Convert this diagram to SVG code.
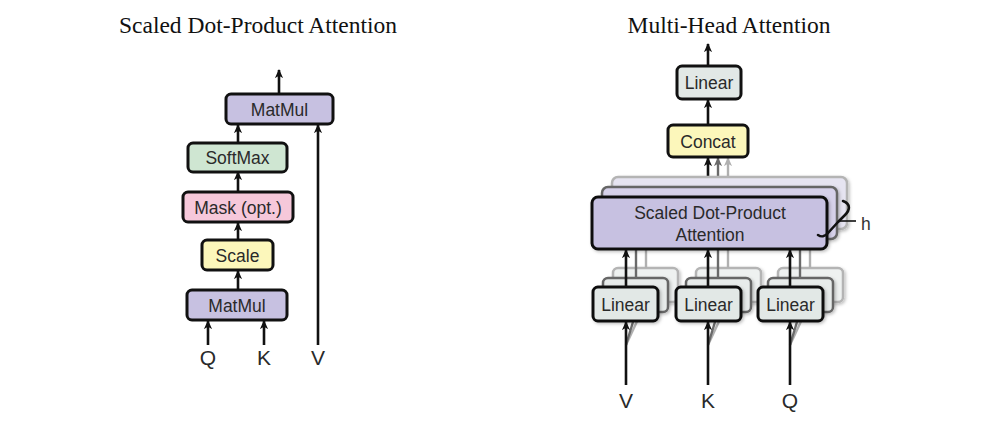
<svg xmlns="http://www.w3.org/2000/svg" width="1000" height="425" viewBox="0 0 1000 425">
<defs>
<style>
.title{font-family:"Liberation Serif","Times New Roman",serif;font-size:23.5px;fill:#111;text-anchor:middle}
.lbl{font-family:"Liberation Sans",Arial,sans-serif;font-size:17.5px;fill:#2a2a2a;text-anchor:middle}
.io{font-family:"Liberation Sans",Arial,sans-serif;font-size:21px;fill:#2a2a2a;text-anchor:middle}
.box{stroke:#111;stroke-width:3}
.b2{stroke:#666;stroke-width:2.5}
.b3{stroke:#b4b4b4;stroke-width:2.5}
.wire{stroke:#111;stroke-width:2.6;fill:none}
.w2{stroke:#6a6a6a;stroke-width:2.4;fill:none}
.w3{stroke:#b0b0b0;stroke-width:2.4;fill:none}
.purple{fill:#c7c1e1}.green{fill:#cfe6d2}.pink{fill:#f6c8da}.yellow{fill:#fcf7bb}.grey{fill:#e2e8e6}
</style>
<marker id="ah" viewBox="0 0 10 10" refX="9" refY="5" markerWidth="9" markerHeight="10" markerUnits="userSpaceOnUse" orient="auto"><path d="M0,0.5 L10,5 L0,9.5 L2.5,5 z" fill="#111"/></marker>
<marker id="ah2" viewBox="0 0 10 10" refX="9" refY="5" markerWidth="9" markerHeight="10" markerUnits="userSpaceOnUse" orient="auto"><path d="M0,0.5 L10,5 L0,9.5 L2.5,5 z" fill="#6a6a6a"/></marker>
<marker id="ah3" viewBox="0 0 10 10" refX="9" refY="5" markerWidth="9" markerHeight="10" markerUnits="userSpaceOnUse" orient="auto"><path d="M0,0.5 L10,5 L0,9.5 L2.5,5 z" fill="#b0b0b0"/></marker>
<filter id="sh" x="-20%" y="-30%" width="140%" height="160%"><feDropShadow dx="1.5" dy="1.5" stdDeviation="1.8" flood-color="#000" flood-opacity="0.25"/></filter>
</defs>
<rect width="1000" height="425" fill="#fff"/>

<text class="title" x="258" y="33">Scaled Dot-Product Attention</text>
<text class="title" x="729" y="33">Multi-Head Attention</text>

<!-- Left diagram connectors -->
<g id="connectors-left">
<line class="wire" x1="279" y1="94" x2="279" y2="70" marker-end="url(#ah)"/>
<line class="wire" x1="238" y1="143" x2="238" y2="125" marker-end="url(#ah)"/>
<line class="wire" x1="318" y1="345" x2="318" y2="125" marker-end="url(#ah)"/>
<line class="wire" x1="238" y1="192" x2="238" y2="172" marker-end="url(#ah)"/>
<line class="wire" x1="238" y1="240" x2="238" y2="223" marker-end="url(#ah)"/>
<line class="wire" x1="238" y1="290" x2="238" y2="271" marker-end="url(#ah)"/>
<line class="wire" x1="208" y1="345" x2="208" y2="321" marker-end="url(#ah)"/>
<line class="wire" x1="264" y1="345" x2="264" y2="321" marker-end="url(#ah)"/>
</g>

<g id="matmul-top"><rect class="box purple" x="226" y="94" width="107" height="30" rx="5"/><text class="lbl" x="279.5" y="115.5">MatMul</text></g>
<g id="softmax"><rect class="box green" x="188" y="143" width="99" height="29" rx="5"/><text class="lbl" x="237.5" y="164">SoftMax</text></g>
<g id="mask"><rect class="box pink" x="183" y="192" width="110" height="30" rx="5"/><text class="lbl" x="238" y="213.5">Mask (opt.)</text></g>
<g id="scale"><rect class="box yellow" x="202" y="240" width="71" height="30" rx="5"/><text class="lbl" x="237.5" y="261.5">Scale</text></g>
<g id="matmul-bottom"><rect class="box purple" x="187" y="290" width="100" height="30" rx="5"/><text class="lbl" x="237" y="311.5">MatMul</text></g>
<g id="labels-left">
<text class="io" x="208" y="365">Q</text>
<text class="io" x="264" y="365">K</text>
<text class="io" x="318" y="365">V</text>
</g>

<!-- Right diagram -->
<g id="connectors-right">
<line class="wire" x1="708" y1="66" x2="708" y2="44" marker-end="url(#ah)"/>
<line class="wire" x1="708" y1="125" x2="708" y2="100" marker-end="url(#ah)"/>
<line class="w3" x1="728" y1="177" x2="728" y2="158" marker-end="url(#ah3)"/>
<line class="w2" x1="718" y1="187" x2="718" y2="158" marker-end="url(#ah2)"/>
<line class="wire" x1="708" y1="197" x2="708" y2="158" marker-end="url(#ah)"/>
</g>

<g id="linear-top"><rect class="box grey" x="677" y="66" width="64" height="33" rx="5"/><text class="lbl" x="709" y="88.5">Linear</text></g>
<g id="concat"><rect class="box yellow" x="668" y="125" width="80" height="32" rx="5"/><text class="lbl" x="708" y="147.5">Concat</text></g>

<!-- back layers of SDPA -->
<g id="sdpa-back">
<rect class="b3" x="612" y="177" width="235" height="52" rx="6" fill="#e6e4f1" filter="url(#sh)"/>
<rect class="b2" x="602" y="187" width="235" height="52" rx="6" fill="#d6d1ea" filter="url(#sh)"/>
</g>

<!-- Linear stacks and their wires -->
<g id="linear-v">
<path class="w3" d="M626 345 L646 302"/>
<path class="w2" d="M626 345 L636 312"/>
<rect class="b3" x="613" y="268" width="65" height="34" rx="5" fill="#eef1f0" filter="url(#sh)"/>
<line class="w3" x1="646" y1="268" x2="646" y2="229"/>
<rect class="b2" x="603" y="278" width="65" height="34" rx="5" fill="#e7ebea" filter="url(#sh)"/>
<line class="w2" x1="636" y1="278" x2="636" y2="239"/>
<rect class="box grey" x="593" y="287" width="65" height="34" rx="5" filter="url(#sh)"/>
<text class="lbl" x="625.5" y="310.5">Linear</text>
</g>
<g id="linear-k">
<path class="w3" d="M708 345 L728 302"/>
<path class="w2" d="M708 345 L718 312"/>
<rect class="b3" x="696" y="268" width="65" height="34" rx="5" fill="#eef1f0" filter="url(#sh)"/>
<line class="w3" x1="728" y1="268" x2="728" y2="229"/>
<rect class="b2" x="686" y="278" width="65" height="34" rx="5" fill="#e7ebea" filter="url(#sh)"/>
<line class="w2" x1="718" y1="278" x2="718" y2="239"/>
<rect class="box grey" x="676" y="287" width="65" height="34" rx="5" filter="url(#sh)"/>
<text class="lbl" x="708.5" y="310.5">Linear</text>
</g>
<g id="linear-q">
<path class="w3" d="M790 345 L810 302"/>
<path class="w2" d="M790 345 L800 312"/>
<rect class="b3" x="778" y="268" width="65" height="34" rx="5" fill="#eef1f0" filter="url(#sh)"/>
<line class="w3" x1="810" y1="268" x2="810" y2="229"/>
<rect class="b2" x="768" y="278" width="65" height="34" rx="5" fill="#e7ebea" filter="url(#sh)"/>
<line class="w2" x1="800" y1="278" x2="800" y2="239"/>
<rect class="box grey" x="758" y="287" width="65" height="34" rx="5" filter="url(#sh)"/>
<text class="lbl" x="790.5" y="310.5">Linear</text>
</g>

<g id="connectors-inputs">
<line class="wire" x1="626" y1="287" x2="626" y2="250" marker-end="url(#ah)"/>
<line class="wire" x1="708" y1="287" x2="708" y2="250" marker-end="url(#ah)"/>
<line class="wire" x1="790" y1="287" x2="790" y2="250" marker-end="url(#ah)"/>
<line class="wire" x1="626" y1="385" x2="626" y2="322" marker-end="url(#ah)"/>
<line class="wire" x1="708" y1="385" x2="708" y2="322" marker-end="url(#ah)"/>
<line class="wire" x1="790" y1="385" x2="790" y2="322" marker-end="url(#ah)"/>
</g>

<g id="sdpa">
<rect class="box purple" x="592" y="197" width="235" height="52" rx="6" filter="url(#sh)"/>
<text class="lbl" x="710" y="219">Scaled Dot-Product</text>
<text class="lbl" x="710" y="241">Attention</text>
</g>

<g id="brace">
<path d="M843 201 C851 204 850 210 845 215 L838 222 L828 233 C825 237 821 237 818 235" fill="none" stroke="#111" stroke-width="2.6" stroke-linecap="round" stroke-linejoin="round"/>
<line x1="839" y1="221" x2="856" y2="221" stroke="#111" stroke-width="1.6"/>
<text x="861" y="230" style="font-family:'Liberation Sans',Arial,sans-serif;font-size:17.5px;fill:#333">h</text>
</g>

<g id="labels-right">
<text class="io" x="626" y="408">V</text>
<text class="io" x="708" y="408">K</text>
<text class="io" x="790" y="408">Q</text>
</g>
</svg>
